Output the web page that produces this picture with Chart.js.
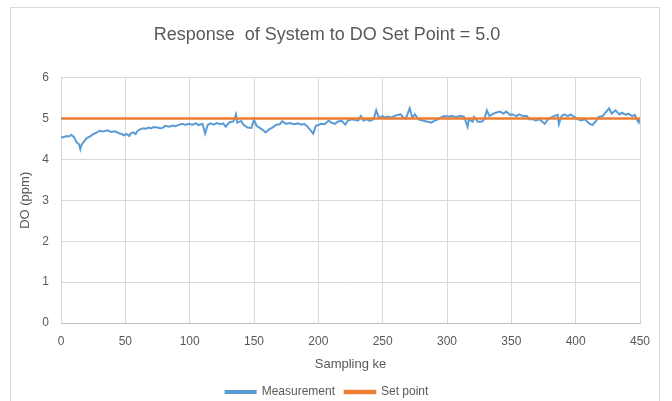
<!DOCTYPE html>
<html>
<head>
<meta charset="utf-8">
<script src="https://cdn.jsdelivr.net/npm/chart.js@4.4.1/dist/chart.umd.min.js"></script>
<style>
    html, body { margin: 0; padding: 0; background: #ffffff; }
    #wrap { position: relative; width: 672px; height: 401px; }
    #frame { position: absolute; left: 10px; top: 7px; width: 650px; height: 400px; border: 1px solid #d9d9d9; box-sizing: border-box; }
    canvas { position: absolute; left: 0; top: 0; }
</style>
</head>
<body>
<div id="wrap">
    <div id="frame"></div>
    <canvas id="doChart" width="672" height="401"></canvas>
</div>
<script>
// ==================== DATA ====================
const sampleK = [
    0, 2, 4, 6, 8, 10, 11, 12, 14, 15, 16, 18, 20, 23, 25, 28, 30, 33, 36, 39,
    42, 45, 47, 49, 51, 53, 54, 56, 58, 59, 61, 64, 66, 68, 70, 72, 75, 77, 79, 81,
    84, 87, 89, 92, 94, 97, 99, 102, 105, 107, 110, 112, 114, 116, 119, 121, 124, 126, 128, 131,
    134, 136, 137, 140, 142, 145, 148, 150, 152, 155, 157, 159, 162, 164, 167, 170, 172, 175, 178, 181,
    184, 187, 189, 191, 194, 196, 198, 200, 202, 205, 208, 210, 213, 215, 218, 221, 223, 226, 229, 231,
    233, 235, 238, 240, 243, 245, 247, 250, 252, 254, 257, 259, 262, 264, 266, 268, 271, 273, 275, 278,
    281, 285, 288, 290, 293, 296, 298, 301, 304, 307, 310, 313, 314, 316, 317, 320, 321, 324, 327, 329,
    331, 333, 336, 338, 341, 344, 346, 349, 351, 354, 356, 359, 362, 364, 367, 369, 372, 374, 376, 379,
    381, 383, 386, 387, 389, 391, 394, 396, 399, 402, 404, 407, 409, 411, 413, 416, 418, 421, 423, 426,
    428, 431, 434, 436, 439, 441, 444, 446, 448, 449, 450
];
const measurement = [
    4.55, 4.54, 4.57, 4.56, 4.60, 4.55, 4.49, 4.42, 4.37, 4.25, 4.36, 4.44, 4.52, 4.57, 4.62, 4.66, 4.70, 4.68, 4.71, 4.67,
    4.69, 4.64, 4.62, 4.59, 4.62, 4.57, 4.63, 4.66, 4.62, 4.68, 4.73, 4.76, 4.75, 4.78, 4.76, 4.79, 4.78, 4.76, 4.77, 4.82,
    4.80, 4.83, 4.81, 4.85, 4.87, 4.84, 4.87, 4.85, 4.88, 4.84, 4.87, 4.63, 4.84, 4.88, 4.85, 4.89, 4.86, 4.88, 4.80, 4.91,
    4.93, 5.10, 4.90, 4.94, 4.84, 4.78, 4.77, 4.97, 4.82, 4.76, 4.72, 4.66, 4.74, 4.77, 4.84, 4.86, 4.93, 4.87, 4.89, 4.86,
    4.88, 4.85, 4.87, 4.82, 4.71, 4.63, 4.82, 4.84, 4.87, 4.86, 4.95, 4.90, 4.87, 4.92, 4.95, 4.85, 4.95, 4.98, 4.96, 4.95,
    5.06, 4.95, 4.98, 4.94, 4.98, 5.20, 5.02, 5.06, 5.02, 5.05, 5.02, 5.06, 5.09, 5.10, 5.02, 5.00, 5.25, 5.02, 5.10, 4.98,
    4.95, 4.92, 4.90, 4.94, 4.98, 5.04, 5.06, 5.05, 5.06, 5.04, 5.06, 5.05, 4.98, 4.80, 4.98, 4.92, 5.04, 4.92, 4.92, 4.98,
    5.20, 5.06, 5.12, 5.14, 5.17, 5.12, 5.17, 5.09, 5.10, 5.06, 5.10, 5.06, 5.06, 4.98, 4.98, 4.95, 4.98, 4.92, 4.87, 5.00,
    5.02, 5.06, 5.09, 4.86, 5.06, 5.10, 5.06, 5.10, 5.04, 4.98, 4.95, 4.98, 4.92, 4.87, 4.84, 4.95, 5.04, 5.06, 5.14, 5.25,
    5.12, 5.20, 5.10, 5.14, 5.09, 5.12, 5.06, 5.09, 4.95, 4.90, 5.02
];
const setPointK = [0, 450];
const setPointValue = [5.0, 5.0];
const xTicks = [0, 50, 100, 150, 200, 250, 300, 350, 400, 450];
const yTicks = [0, 1, 2, 3, 4, 5, 6];

// ==================== CHART ====================
const FONT = '"Liberation Sans", Arial, sans-serif';
const TEXT = '#595959';
const GRID = '#d9d9d9';

const ctx = document.getElementById('doChart').getContext('2d');
new Chart(ctx, {
    type: 'line',
    data: {
        datasets: [
            {
                label: 'Measurement',
                data: sampleK.map((k, i) => ({ x: k, y: measurement[i] })),
                borderColor: '#5b9bd5',
                backgroundColor: '#5b9bd5',
                borderWidth: 2,
                pointRadius: 0,
                tension: 0,
                order: 2
            },
            {
                label: 'Set point',
                data: setPointK.map((k, i) => ({ x: k, y: setPointValue[i] })),
                borderColor: '#ed7d31',
                backgroundColor: '#ed7d31',
                borderWidth: 2.5,
                pointRadius: 0,
                order: 1
            }
        ]
    },
    options: {
        responsive: false,
        animation: false,
        layout: { padding: { left: 14, right: 32, top: 0, bottom: -7 } },
        plugins: {
            title: {
                display: true,
                text: 'Response  of System to DO Set Point = 5.0',
                color: TEXT,
                font: { family: FONT, size: 18, weight: 'normal' },
                padding: { top: 24, bottom: 32 }
            },
            legend: {
                display: true,
                position: 'bottom',
                labels: {
                    color: TEXT,
                    font: { family: FONT, size: 12 },
                    boxWidth: 30,
                    boxHeight: 2,
                    padding: 10,
                    sort: (a, b) => a.datasetIndex - b.datasetIndex
                }
            },
            tooltip: { enabled: false }
        },
        scales: {
            x: {
                type: 'linear',
                min: 0,
                max: 450,
                afterBuildTicks: scale => { scale.ticks = xTicks.map(v => ({ value: v })); },
                afterFit: scale => { scale.height = 53; },
                grid: { color: GRID, drawTicks: false },
                border: { color: '#bfbfbf' },
                ticks: { color: TEXT, font: { family: FONT, size: 12 }, padding: 11, maxRotation: 0 },
                title: { display: true, text: 'Sampling ke', color: TEXT, font: { family: FONT, size: 13 }, padding: { top: 7 } }
            },
            y: {
                min: 0,
                max: 6,
                afterBuildTicks: scale => { scale.ticks = yTicks.map(v => ({ value: v })); },
                afterFit: scale => { scale.width = 47; },
                grid: { color: GRID, drawTicks: false },
                border: { display: false },
                ticks: { color: TEXT, font: { family: FONT, size: 12 }, padding: 12 },
                title: { display: true, text: 'DO (ppm)', color: TEXT, font: { family: FONT, size: 13 }, padding: { bottom: 2 } }
            }
        }
    }
});
</script>
</body>
</html>
